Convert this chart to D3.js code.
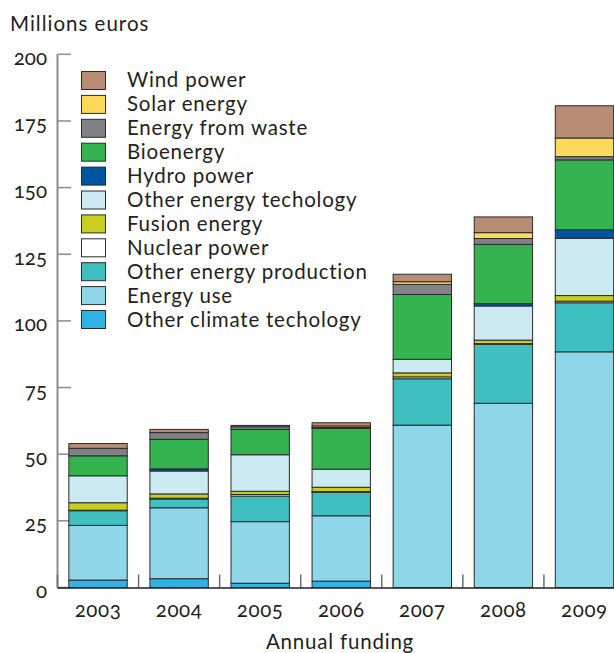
<!DOCTYPE html>
<html>
<head>
<meta charset="utf-8">
<script src="https://cdn.jsdelivr.net/npm/d3@7/dist/d3.min.js"></script>
<style>
  html, body { margin: 0; padding: 0; background: #fff; }
  svg { display: block; }
  text { font-family: Lato, "Open Sans", sans-serif; fill: #231f20; }
  .num { font-variant-numeric: oldstyle-nums; font-feature-settings: "onum" 1; }
</style>
</head>
<body>
<script>
// Annual funding by energy/climate technology, millions of euros
const years = ["2003", "2004", "2005", "2006", "2007", "2008", "2009"];

const otherClimate    = [2.8, 3.3, 1.6, 2.4, 0, 0, 0];
const energyUse       = [20.5, 26.6, 23.1, 24.5, 60.9, 69.1, 88.4];
const otherProduction = [5.5, 3.3, 9.6, 8.8, 17.4, 22.1, 18.4];
const nuclearPower    = [0.2, 0.3, 0.6, 0.3, 0.7, 0.3, 0.6];
const fusionEnergy    = [2.8, 1.6, 1.2, 1.6, 1.5, 1.3, 2.1];
const otherTechnology = [10.1, 8.6, 13.7, 6.8, 5.1, 12.8, 21.5];
const hydroPower      = [0, 0.8, 0, 0, 0, 0.9, 3.2];
const bioenergy       = [7.5, 11.1, 9.5, 15.3, 24.3, 22.2, 26.2];
const energyWaste     = [2.8, 2.5, 1.0, 0.3, 3.8, 2.2, 1.2];
const solarEnergy     = [0, 0, 0, 0.6, 1.0, 2.2, 7.0];
const windPower       = [1.8, 1.2, 0.5, 1.2, 2.8, 5.9, 12.1];

const yTicks = [0, 25, 50, 75, 100, 125, 150, 175, 200];

// stacking order, bottom to top
const series = [
  { key: "climate",    label: "Other climate techology",  values: otherClimate,    color: "#2fb3e6" },
  { key: "use",        label: "Energy use",               values: energyUse,       color: "#8fd6e8" },
  { key: "production", label: "Other energy production",  values: otherProduction, color: "#3fbfbf" },
  { key: "nuclear",    label: "Nuclear power",            values: nuclearPower,    color: "#ffffff" },
  { key: "fusion",     label: "Fusion energy",            values: fusionEnergy,    color: "#c8cf21" },
  { key: "technology", label: "Other energy techology",   values: otherTechnology, color: "#cbeaf1" },
  { key: "hydro",      label: "Hydro power",              values: hydroPower,      color: "#0055a0" },
  { key: "bio",        label: "Bioenergy",                values: bioenergy,       color: "#33b44f" },
  { key: "waste",      label: "Energy from waste",        values: energyWaste,     color: "#808285" },
  { key: "solar",      label: "Solar energy",             values: solarEnergy,     color: "#fcd95a" },
  { key: "wind",       label: "Wind power",               values: windPower,       color: "#b88b74" }
];

const table = years.map((yr, i) => {
  const row = { year: yr };
  series.forEach(s => row[s.key] = s.values[i]);
  return row;
});

const W = 614, H = 653;
const FS = 20.5;
const svg = d3.select("body").append("svg").attr("width", W).attr("height", H);

const x = d3.scaleBand().domain(years).range([57.5, 625]).paddingInner(0.28).paddingOuter(0.14);
const y = d3.scaleLinear().domain([0, 200]).range([587.5, 54.3]);
const step = x.step();

// y axis
const axisG = svg.append("g");
axisG.append("line")
  .attr("x1", 57.5).attr("x2", 57.5).attr("y1", y(0)).attr("y2", y(200))
  .attr("stroke", "#8c8c8c").attr("stroke-width", 2);
axisG.selectAll(".ytick").data(yTicks).join("line")
  .attr("x1", 57.5).attr("x2", 71).attr("y1", d => y(d)).attr("y2", d => y(d))
  .attr("stroke", "#8c8c8c").attr("stroke-width", 1.5);
axisG.selectAll(".ylab").data(yTicks).join("text")
  .attr("class", "num")
  .attr("x", 47).attr("y", d => y(d) + 10.5)
  .attr("text-anchor", "end").attr("font-size", FS)
  .text(d => d);

// x axis ticks between bars
const bounds = years.map(yr => x(yr) - step * x.paddingInner() / 2);
svg.selectAll(".xtick").data(bounds).join("line")
  .attr("x1", d => d).attr("x2", d => d).attr("y1", y(0)).attr("y2", y(0) - 13)
  .attr("stroke", "#6d6d6d").attr("stroke-width", 1.5);

// stacked bars
const stacked = d3.stack().keys(series.map(s => s.key))(table);
const barG = svg.append("g");
stacked.forEach((layer, li) => {
  barG.append("g").selectAll("rect").data(layer).join("rect")
    .attr("x", d => x(d.data.year))
    .attr("width", x.bandwidth())
    .attr("y", d => y(d[1]))
    .attr("height", d => Math.max(0, y(d[0]) - y(d[1])))
    .attr("fill", series[li].color)
    .attr("stroke", "#2b2b2b")
    .attr("stroke-width", d => (d[1] - d[0]) > 0 ? 1 : 0);
});

// baseline
svg.append("line")
  .attr("x1", 57.5).attr("x2", W).attr("y1", y(0) + 0.5).attr("y2", y(0) + 0.5)
  .attr("stroke", "#231f20").attr("stroke-width", 1.5);

// year labels
svg.selectAll(".xlab").data(years).join("text")
  .attr("class", "num")
  .attr("x", d => x(d) + x.bandwidth() / 2)
  .attr("y", 616.5)
  .attr("text-anchor", "middle").attr("font-size", FS)
  .attr("letter-spacing", 0.6)
  .text(d => d);

svg.append("text").attr("x", 340).attr("y", 648.5).attr("text-anchor", "middle")
  .attr("font-size", FS).attr("letter-spacing", 0.8).text("Annual funding");

svg.append("text").attr("x", 10).attr("y", 30.7).attr("font-size", FS)
  .attr("letter-spacing", 1.0).text("Millions euros");

// legend, top entry first
const legendItems = series.slice().reverse();
const leg = svg.append("g");
legendItems.forEach((s, i) => {
  leg.append("rect")
    .attr("x", 81.5).attr("y", 71.5 + i * 23.9).attr("width", 24).attr("height", 18)
    .attr("fill", s.color).attr("stroke", "#2b2b2b").attr("stroke-width", 1);
  leg.append("text")
    .attr("x", 127).attr("y", 87.3 + i * 23.97)
    .attr("font-size", FS).attr("letter-spacing", 0.78).text(s.label);
});
</script>
</body>
</html>
